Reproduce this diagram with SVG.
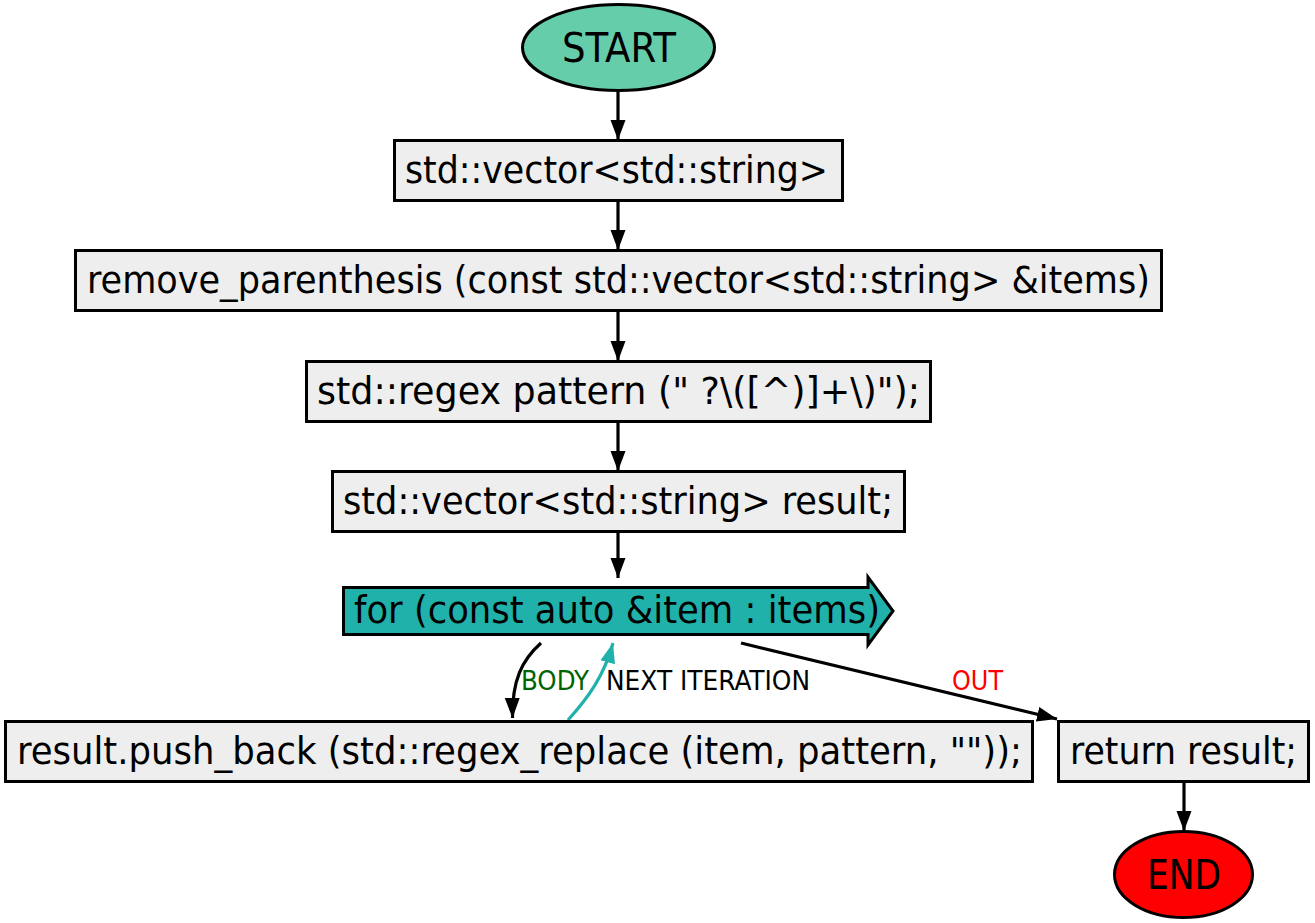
<svg xmlns="http://www.w3.org/2000/svg" width="1315" height="923" viewBox="0 0 1315 923">
  <style>
    .box { fill: #eeeeee; stroke: #000; stroke-width: 3; }
    .term { stroke: #000; stroke-width: 3; }
    .code { font-family: "DejaVu Sans Condensed", "DejaVu Sans", sans-serif; font-size: 37px; fill: #000; text-anchor: middle; }
    .term-text { font-family: "DejaVu Sans Condensed", "DejaVu Sans", sans-serif; font-size: 40px; fill: #000; text-anchor: middle; }
    .edge { fill: none; stroke: #000; stroke-width: 3.2; }
    .label { font-family: "DejaVu Sans Condensed", "DejaVu Sans", sans-serif; font-size: 27px; }
  </style>
  <defs>
    <marker id="arrow" markerUnits="userSpaceOnUse" markerWidth="22" markerHeight="18" refX="20" refY="9" orient="auto">
      <path d="M0,1.5 L20,9 L0,16.5 Z" fill="#000"/>
    </marker>
    <marker id="arrow-teal" markerUnits="userSpaceOnUse" markerWidth="22" markerHeight="18" refX="20" refY="9" orient="auto">
      <path d="M0,1.5 L20,9 L0,16.5 Z" fill="#20b2aa"/>
    </marker>
  </defs>

  <rect width="1315" height="923" fill="#fff"/>

  <!-- connectors -->
  <g id="edges">
    <path class="edge" d="M618,91 L618,140" marker-end="url(#arrow)"/>
    <path class="edge" d="M618,201 L618,250" marker-end="url(#arrow)"/>
    <path class="edge" d="M618,311 L618,361" marker-end="url(#arrow)"/>
    <path class="edge" d="M618,422 L618,471" marker-end="url(#arrow)"/>
    <path class="edge" d="M618,532 L618,578" marker-end="url(#arrow)"/>
    <path class="edge" d="M541,643 C522,660 512,680 512.5,718" marker-end="url(#arrow)"/>
    <path class="edge" d="M568,720 C588,698 604,676 613,643" style="stroke:#20b2aa" marker-end="url(#arrow-teal)"/>
    <path class="edge" d="M741,643 L1057,719" marker-end="url(#arrow)"/>
    <path class="edge" d="M1184,783 L1184,831" marker-end="url(#arrow)"/>
    <text class="label" x="521" y="690" fill="#006400" textLength="68" lengthAdjust="spacingAndGlyphs">BODY</text>
    <text class="label" x="606" y="690" fill="#000" textLength="204" lengthAdjust="spacingAndGlyphs">NEXT ITERATION</text>
    <text class="label" x="952" y="690" fill="#ff0000" textLength="51" lengthAdjust="spacingAndGlyphs">OUT</text>
  </g>

  <g id="start">
    <ellipse class="term" cx="618.5" cy="47.5" rx="96" ry="43" fill="#66cdaa"/>
    <text class="term-text" x="619" y="61.5" textLength="114" lengthAdjust="spacingAndGlyphs">START</text>
  </g>

  <g id="decl">
    <rect class="box" x="394.5" y="140.5" width="448" height="60"/>
    <text class="code" x="616.5" y="183" textLength="423" lengthAdjust="spacingAndGlyphs">std::vector&lt;std::string&gt;</text>
  </g>

  <g id="func">
    <rect class="box" x="75.5" y="250.5" width="1086" height="60"/>
    <text class="code" x="618.5" y="293" textLength="1063" lengthAdjust="spacingAndGlyphs">remove_parenthesis (const std::vector&lt;std::string&gt; &amp;items)</text>
  </g>

  <g id="pattern">
    <rect class="box" x="306.5" y="361.5" width="624" height="60"/>
    <text class="code" x="618.5" y="404" textLength="603" lengthAdjust="spacingAndGlyphs">std::regex pattern (" ?\([^)]+\)");</text>
  </g>

  <g id="result-decl">
    <rect class="box" x="332.5" y="471.5" width="572" height="60"/>
    <text class="code" x="618" y="514" textLength="550" lengthAdjust="spacingAndGlyphs">std::vector&lt;std::string&gt; result;</text>
  </g>

  <g id="loop">
    <polygon points="343.5,587.5 868,587.5 868,577 893,611 868,645 868,634.5 343.5,634.5" fill="#20b2aa" stroke="#000" stroke-width="3" stroke-linejoin="miter"/>
    <text class="code" x="617" y="623" textLength="526" lengthAdjust="spacingAndGlyphs">for (const auto &amp;item : items)</text>
  </g>

  <g id="push">
    <rect class="box" x="5.5" y="721.5" width="1027" height="60"/>
    <text class="code" x="519.5" y="764" textLength="1005" lengthAdjust="spacingAndGlyphs">result.push_back (std::regex_replace (item, pattern, ""));</text>
  </g>

  <g id="return">
    <rect class="box" x="1058.5" y="721.5" width="250" height="60"/>
    <text class="code" x="1183.5" y="764" textLength="227" lengthAdjust="spacingAndGlyphs">return result;</text>
  </g>

  <g id="end">
    <ellipse class="term" cx="1183.5" cy="874.5" rx="69" ry="43" fill="#ff0000"/>
    <text class="term-text" x="1184" y="888.5" textLength="74" lengthAdjust="spacingAndGlyphs">END</text>
  </g>
</svg>
